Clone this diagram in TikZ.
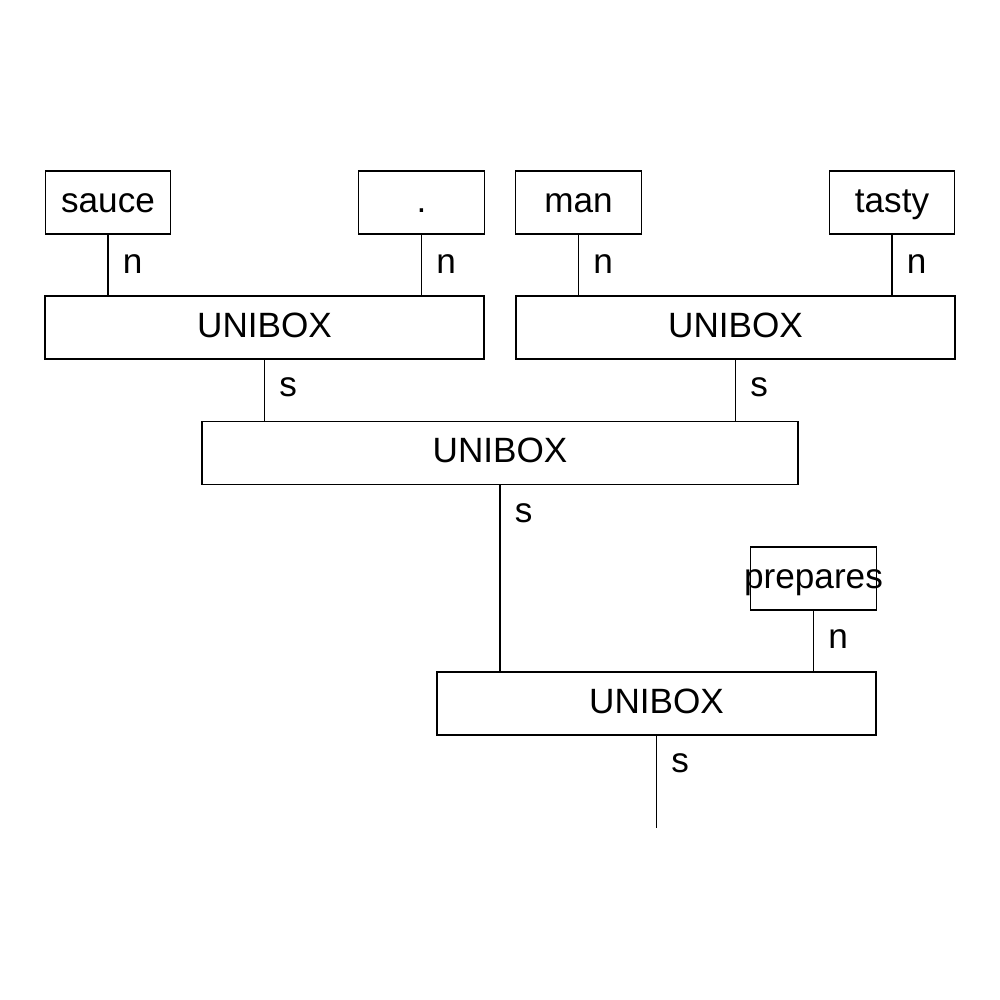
\documentclass[tikz,border=0pt]{standalone}
\usepackage{fontspec}
\setmainfont{Liberation Sans}
\usetikzlibrary{calc}

\begin{document}
\begin{tikzpicture}[font=\fontsize{10}{12}\selectfont,
  wbox/.style={draw, minimum height=0.63cm, inner sep=0pt, text height=7pt, text depth=1.5pt},
  small/.style={wbox, minimum width=1.255cm},
  uni/.style={wbox, minimum width=4.39cm},
  lab/.style={anchor=west, inner sep=4pt}]

\useasboundingbox (0,0) rectangle (10,10);

% words
\node[small] (sauce) at (1.08,7.975) {sauce};
\node[small] (dot) at (4.215,7.975) {.};
\node[small] (man) at (5.785,7.975) {man};
\node[small] (tasty) at (8.92,7.975) {tasty};
\node[small] (prepares) at (8.135,4.215) {\makebox[0pt]{prepares}};

% unification boxes
\node[uni] (u1) at (2.645,6.725) {UNIBOX};
\node[uni] (u2) at (7.355,6.725) {UNIBOX};
\node[uni, minimum width=5.96cm] (u3) at (5.00,5.47) {UNIBOX};
\node[uni] (u4) at (6.565,2.965) {UNIBOX};
\coordinate (root) at (6.565,1.72);

\draw (sauce.south) -- (sauce.south |- u1.north) node[lab] at ($(sauce.south)+(0,-0.29)$) {n};
\draw (dot.south) -- (dot.south |- u1.north) node[lab] at ($(dot.south)+(0,-0.29)$) {n};
\draw (man.south) -- (man.south |- u2.north) node[lab] at ($(man.south)+(0,-0.29)$) {n};
\draw (tasty.south) -- (tasty.south |- u2.north) node[lab] at ($(tasty.south)+(0,-0.29)$) {n};

\draw (u1.south) -- (u1.south |- u3.north) node[lab] at ($(u1.south)+(0,-0.28)$) {s};
\draw (u2.south) -- (u2.south |- u3.north) node[lab] at ($(u2.south)+(0,-0.28)$) {s};
\draw (u3.south) -- (u3.south |- u4.north) node[lab] at ($(u3.south)+(0,-0.28)$) {s};
\draw (prepares.south) -- (prepares.south |- u4.north) node[lab] at ($(prepares.south)+(0,-0.28)$) {n};
\draw (u4.south) -- (root) node[lab] at ($(u4.south)+(0,-0.28)$) {s};

\end{tikzpicture}
\end{document}
